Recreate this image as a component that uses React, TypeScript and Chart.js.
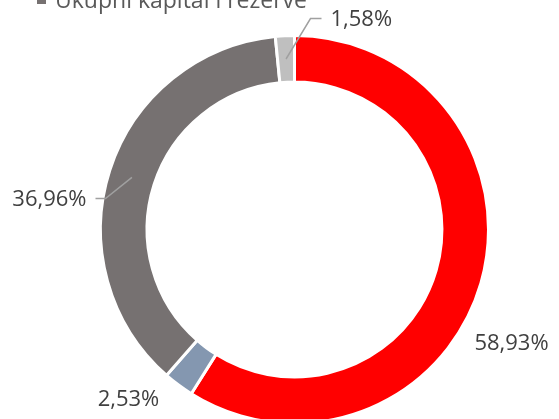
import React, { useEffect, useRef } from "react";
import { Chart, registerables } from "chart.js";

Chart.register(...registerables);

// ---- data ----
const categories = [
  "Ukupne obveze",
  "Rezerviranja",
  "Ukupni kapital i rezerve",
  "Odgođeno plaćanje troškova i prihod budućeg razdoblja",
];
const shares = [58.93, 2.53, 36.96, 1.58];
const colors = ["#FF0000", "#8497B0", "#767171", "#BFBFBF"];
const legendVisible = ["Ukupni kapital i rezerve"];

// ---- label layout (offsets from the doughnut centre) ----
type Layout = {
  text: [number, number];
  align: CanvasTextAlign;
  elbow?: [number, number];
  end?: [number, number];
};
const labelLayout: Layout[] = [
  { text: [217, 114], align: "center" },
  { text: [-166, 170], align: "center" },
  { elbow: [-189, -31], end: [-199, -31], text: [-208, -30], align: "right" },
  { elbow: [16, -211], end: [27, -211], text: [36, -210], align: "left" },
];

const FONT = '"Open Sans", "DejaVu Sans", sans-serif';
const TEXT_COLOR = "#404040";
const LEADER_COLOR = "#A0A0A0";

const fmt = (v: number) => v.toFixed(2).replace(".", ",") + "%";

const labelPlugin = {
  id: "excelLabels",
  afterDraw(chart: any) {
    const ctx: CanvasRenderingContext2D = chart.ctx;
    const meta = chart.getDatasetMeta(0);
    const data = chart.data.datasets[0].data as number[];
    ctx.save();
    ctx.font = `22px ${FONT}`;
    ctx.fillStyle = TEXT_COLOR;
    ctx.textBaseline = "middle";
    meta.data.forEach((arc: any, i: number) => {
      const p = arc.getProps(["x", "y", "startAngle", "endAngle", "innerRadius", "outerRadius"], true);
      const lay = labelLayout[i];
      if (!lay) return;
      const cx = p.x;
      const cy = p.y;
      if (lay.elbow && lay.end) {
        const mid = (p.startAngle + p.endAngle) / 2;
        const r = (p.innerRadius + p.outerRadius) / 2;
        const ax = cx + Math.cos(mid) * r;
        const ay = cy + Math.sin(mid) * r;
        ctx.strokeStyle = LEADER_COLOR;
        ctx.lineWidth = 1.5;
        ctx.beginPath();
        ctx.moveTo(ax, ay);
        ctx.lineTo(cx + lay.elbow[0], cy + lay.elbow[1]);
        ctx.lineTo(cx + lay.end[0], cy + lay.end[1]);
        ctx.stroke();
      }
      ctx.textAlign = lay.align;
      ctx.fillText(fmt(data[i]), cx + lay.text[0], cy + lay.text[1]);
    });

    // partially visible legend row at the very top
    ctx.textAlign = "left";
    ctx.textBaseline = "alphabetic";
    ctx.font = `23px ${FONT}`;
    legendVisible.forEach((name) => {
      const idx = categories.indexOf(name);
      ctx.fillStyle = colors[idx] || "#767171";
      ctx.fillRect(37, -6, 9, 10);
      ctx.fillStyle = "#595959";
      ctx.fillText(name, 55, 8);
    });
    ctx.restore();
  },
};

export default function App() {
  const ref = useRef<HTMLCanvasElement | null>(null);
  useEffect(() => {
    if (!ref.current) return;
    const chart = new Chart(ref.current, {
      type: "doughnut",
      data: {
        labels: categories,
        datasets: [
          {
            data: shares,
            backgroundColor: colors,
            borderColor: "#FFFFFF",
            borderWidth: 3,
            hoverOffset: 0,
          },
        ],
      },
      options: {
        responsive: false,
        animation: false,
        cutout: "76%",
        rotation: 0,
        layout: { padding: { left: 99, right: 69, top: 34, bottom: 25 } },
        plugins: {
          legend: { display: false },
          tooltip: { enabled: false },
        },
      },
      plugins: [labelPlugin],
    });
    return () => chart.destroy();
  }, []);
  return (
    <div
      style={{
        position: "fixed",
        left: 0,
        top: 0,
        width: 559,
        height: 419,
        overflow: "hidden",
        background: "#FFFFFF",
      }}
    >
      <canvas ref={ref} width={559} height={450} style={{ display: "block" }} />
    </div>
  );
}
